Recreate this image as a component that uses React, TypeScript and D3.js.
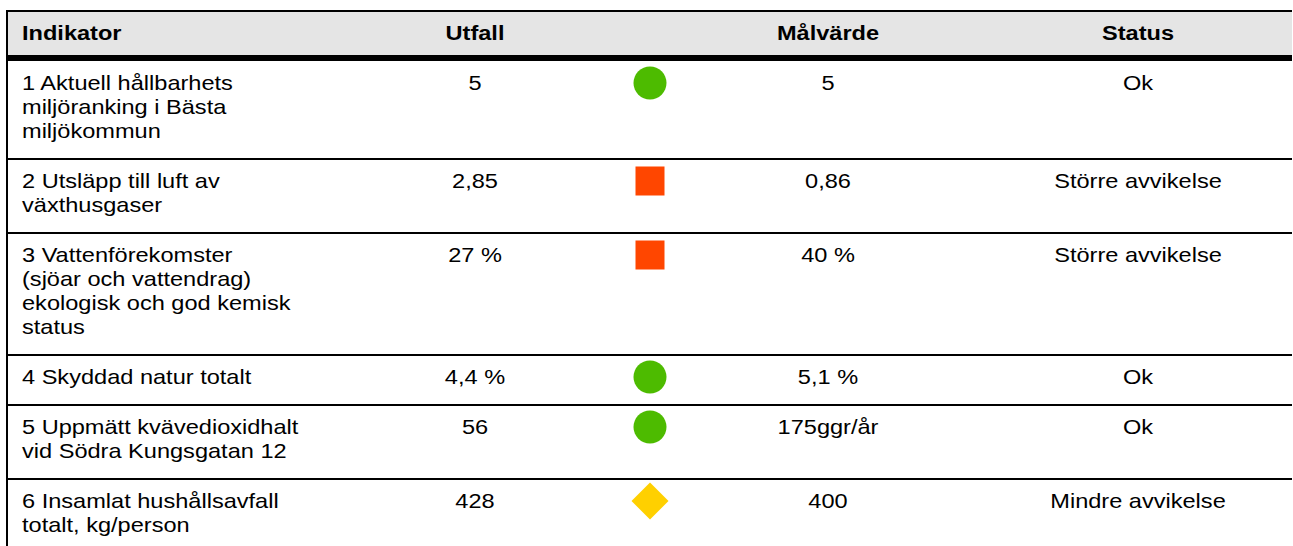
import { useEffect, useRef } from 'react'
import * as d3 from 'd3'

const headers = ['Indikator', 'Utfall', '', 'Målvärde', 'Status']

const indikatorer = [
  ['1 Aktuell hållbarhets', 'miljöranking i Bästa', 'miljökommun'],
  ['2 Utsläpp till luft av', 'växthusgaser'],
  ['3 Vattenförekomster', '(sjöar och vattendrag)', 'ekologisk och god kemisk', 'status'],
  ['4 Skyddad natur totalt'],
  ['5 Uppmätt kvävedioxidhalt', 'vid Södra Kungsgatan 12'],
  ['6 Insamlat hushållsavfall', 'totalt, kg/person'],
]
const utfall = ['5', '2,85', '27 %', '4,4 %', '56', '428']
const malvarde = ['5', '0,86', '40 %', '5,1 %', '175ggr/år', '400']
const status = ['Ok', 'Större avvikelse', 'Större avvikelse', 'Ok', 'Ok', 'Mindre avvikelse']
const symbol = ['circle', 'square', 'square', 'circle', 'circle', 'diamond']

const W = 1293
const H = 546
const FONT = '"Liberation Sans", Arial, sans-serif'
const FS = 20.5
const SX = 1.15

export default function App() {
  const svgRef = useRef<SVGSVGElement>(null)

  useEffect(() => {
    if (!svgRef.current) return
    const svg = d3.select(svgRef.current)
    svg.selectAll('*').remove()

    const left = 6
    const right = 1292
    const top = 10
    const headerBottom = 61
    const lineH = 24
    const pad = 26

    // column anchors
    const colX = d3.scaleOrdinal<string, number>()
      .domain(headers)
      .range([22, 475, 650, 828, 1138])

    const symColor = d3.scaleOrdinal<string, string>()
      .domain(['circle', 'square', 'diamond'])
      .range(['#4dbb00', '#ff4600', '#ffd000'])

    // row tops from line counts
    const rowTops: number[] = []
    let y = headerBottom
    indikatorer.forEach(lines => {
      rowTops.push(y)
      y += lines.length * lineH + pad
    })

    const label = (g: any, x: number, yy: number, s: string, anchor: string, bold = false) => {
      g.append('text')
        .attr('transform', `translate(${x},${yy}) scale(${SX},1)`)
        .attr('dy', '0.35em')
        .attr('text-anchor', anchor)
        .style('font-family', FONT)
        .style('font-size', `${FS}px`)
        .style('font-weight', bold ? 'bold' : 'normal')
        .style('fill', '#000')
        .text(s)
    }

    // header
    svg.append('rect')
      .attr('x', left).attr('y', top)
      .attr('width', right - left).attr('height', headerBottom - top)
      .attr('fill', '#e5e5e5')
    svg.append('rect')
      .attr('x', left).attr('y', top)
      .attr('width', right - left).attr('height', 2)
      .attr('fill', '#000')
    svg.append('rect')
      .attr('x', left).attr('y', headerBottom - 6)
      .attr('width', right - left).attr('height', 6)
      .attr('fill', '#000')

    headers.filter(h => h).forEach(h => {
      label(svg, colX(h), 33, h, h === 'Indikator' ? 'start' : 'middle', true)
    })

    // row separators
    svg.selectAll('.sep')
      .data(rowTops.slice(1))
      .enter().append('rect')
      .attr('x', left).attr('y', d => d - 1)
      .attr('width', right - left).attr('height', 2)
      .attr('fill', '#000')

    // left border
    svg.append('rect')
      .attr('x', left).attr('y', top)
      .attr('width', 2).attr('height', H - top)
      .attr('fill', '#000')

    const rows = svg.selectAll('.row')
      .data(indikatorer.map((lines, i) => ({ lines, i })))
      .enter().append('g')
      .attr('transform', d => `translate(0,${rowTops[d.i] + 22})`)

    rows.each(function (d) {
      const g = d3.select(this)
      d.lines.forEach((line, k) => label(g, colX('Indikator'), k * lineH, line, 'start'))
      label(g, colX('Utfall'), 0, utfall[d.i], 'middle')
      label(g, colX('Målvärde'), 0, malvarde[d.i], 'middle')
      label(g, colX('Status'), 0, status[d.i], 'middle')

      const cx = colX('')
      const s = symbol[d.i]
      const c = symColor(s)
      if (s === 'circle') {
        g.append('circle').attr('cx', cx).attr('cy', 0).attr('r', 16.5).attr('fill', c)
      } else if (s === 'square') {
        g.append('rect').attr('x', cx - 14.5).attr('y', -14.5)
          .attr('width', 29).attr('height', 29).attr('fill', c)
      } else {
        g.append('path')
          .attr('d', `M${cx},-18.5L${cx + 18.5},0L${cx},18.5L${cx - 18.5},0Z`)
          .attr('fill', c)
      }
    })
  }, [])

  return (
    <svg
      ref={svgRef}
      width={W}
      height={H}
      style={{ position: 'absolute', left: 0, top: 0, background: '#fff' }}
    />
  )
}
